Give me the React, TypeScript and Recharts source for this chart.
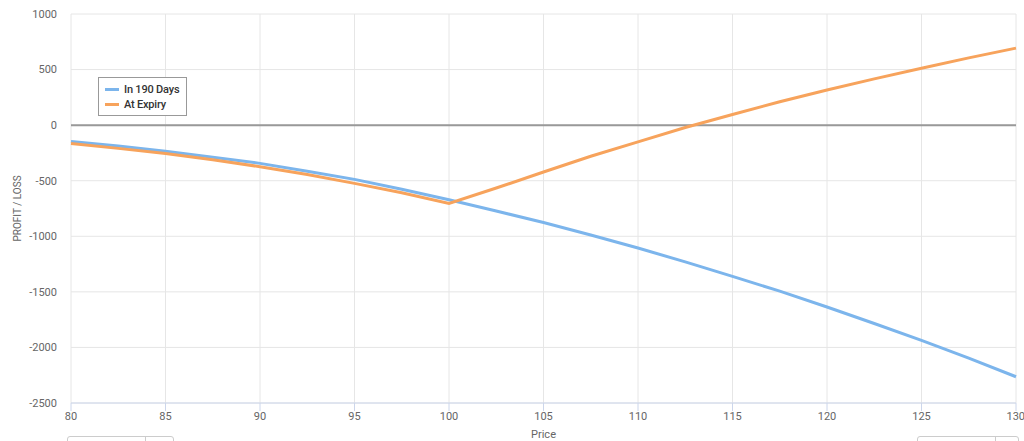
import {
  CartesianGrid,
  Line,
  LineChart,
  ReferenceLine,
  XAxis,
  YAxis,
} from "recharts";

const prices = [
  80, 82.5, 85, 87.5, 90, 92.5, 95, 97.5, 100, 102.5, 105, 107.5, 110, 112.5,
  115, 117.5, 120, 122.5, 125, 127.5, 130,
];
const in190Days = [
  -147, -188, -235, -288, -344, -415, -488, -576, -671, -773, -876, -988,
  -1106, -1230, -1361, -1494, -1636, -1785, -1936, -2097, -2264,
];
const atExpiry = [
  -165, -209, -256, -312, -374, -444, -524, -609, -705, -566, -422, -280,
  -151, -21, 96, 211, 316, 416, 512, 605, 693,
];
const xTicks = [80, 85, 90, 95, 100, 105, 110, 115, 120, 125, 130];
const yTicks = [-2500, -2000, -1500, -1000, -500, 0, 500, 1000];

const seriesNames = ["In 190 Days", "At Expiry"];
const seriesColors = ["#7cb5ec", "#f7a35c"];

const FONT = "Roboto, sans-serif";

// build rows for recharts
const data = prices.map((p, i) => ({
  price: p,
  days190: in190Days[i],
  expiry: atExpiry[i],
}));

function LegendBox() {
  return (
    <div
      style={{
        position: "absolute",
        left: 98,
        top: 77,
        height: 39,
        boxSizing: "border-box",
        border: "1px solid #999",
        background: "#fff",
        padding: "4px 7px 0 6px",
        fontFamily: FONT,
        fontSize: 11,
        letterSpacing: -0.2,
        color: "#333",
        fontWeight: 500,
        whiteSpace: "nowrap",
      }}
    >
      {seriesNames.map((name, i) => (
        <div
          key={name}
          style={{ display: "flex", alignItems: "center", height: 15 }}
        >
          <span
            style={{
              display: "inline-block",
              width: 14,
              height: 3,
              background: seriesColors[i],
              marginRight: 5,
            }}
          />
          {name}
        </div>
      ))}
    </div>
  );
}

export default function App() {
  return (
    <div
      style={{
        position: "absolute",
        left: 0,
        top: 0,
        width: 1024,
        height: 441,
        overflow: "hidden",
        background: "#fff",
      }}
    >
      <LineChart
        width={1024}
        height={441}
        data={data}
        margin={{ top: 14, right: 8, bottom: 8, left: 0 }}
      >
        <CartesianGrid stroke="#e6e6e6" strokeWidth={1} />
        <XAxis
          dataKey="price"
          type="number"
          domain={[80, 130]}
          ticks={xTicks}
          height={30}
          axisLine={{ stroke: "#ccd6eb" }}
          tickLine={{ stroke: "#ccd6eb" }}
          tickSize={8}
          tickMargin={1}
          tick={{ fill: "#666", fontSize: 11, fontFamily: FONT }}
          label={{
            value: "Price",
            position: "center",
            dy: 16,
            fill: "#666",
            fontSize: 11,
            fontFamily: FONT,
          }}
        />
        <YAxis
          type="number"
          domain={[-2500, 1000]}
          ticks={yTicks}
          width={71}
          axisLine={false}
          tickLine={false}
          tickSize={8}
          tickMargin={6}
          tick={{ fill: "#666", fontSize: 11, fontFamily: FONT }}
          label={{
            value: "PROFIT / LOSS",
            angle: -90,
            position: "center",
            dx: -18,
            fill: "#666",
            fontSize: 10,
            fontFamily: FONT,
          }}
        />
        <ReferenceLine y={0} stroke="#999" strokeWidth={2} />
        <Line
          name={seriesNames[0]}
          dataKey="days190"
          type="linear"
          stroke={seriesColors[0]}
          strokeWidth={3}
          dot={false}
          isAnimationActive={false}
        />
        <Line
          name={seriesNames[1]}
          dataKey="expiry"
          type="linear"
          stroke={seriesColors[1]}
          strokeWidth={3}
          dot={false}
          isAnimationActive={false}
        />
      </LineChart>
      <LegendBox />
      <div
        style={{
          position: "absolute",
          left: 67,
          top: 436,
          width: 105,
          height: 20,
          border: "1px solid #ccc",
          borderRadius: 3,
        }}
      >
        <div
          style={{
            position: "absolute",
            left: 77,
            top: 0,
            height: 20,
            borderLeft: "1px solid #ccc",
          }}
        />
      </div>
      <div
        style={{
          position: "absolute",
          left: 917,
          top: 436,
          width: 100,
          height: 20,
          border: "1px solid #ccc",
          borderRadius: 3,
        }}
      >
        <div
          style={{
            position: "absolute",
            left: 77,
            top: 0,
            height: 20,
            borderLeft: "1px solid #ccc",
          }}
        />
      </div>
    </div>
  );
}
